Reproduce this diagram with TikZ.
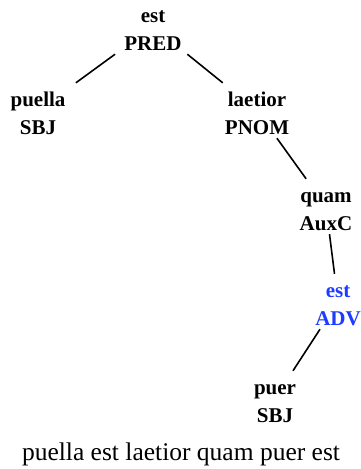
\documentclass[tikz,border=0pt]{standalone}
\usepackage{fontspec}
\setmainfont{Liberation Serif}
\definecolor{advblue}{RGB}{30,60,255}
\newcommand\lab[2]{\raisebox{0pt}[23pt][32pt]{\begin{tabular}[t]{@{}c@{}}#1\\#2\end{tabular}}}
\tikzset{
  tok/.style={inner sep=0pt, minimum width=90pt, anchor=base,
    font=\bfseries\fontsize{21}{28}\selectfont},
  edge/.style={line width=1.6pt},
}
\begin{document}
\begin{tikzpicture}[x=1pt,y=-1pt]
\useasboundingbox (0,0) rectangle (361,469);
\node[tok] (pred) at (153,22) {\lab{est}{PRED}};
\node[tok] (puella) at (38,106) {\lab{puella}{SBJ}};
\node[tok] (laetior) at (257,106) {\lab{laetior}{PNOM}};
\node[tok] (quam) at (326,202) {\lab{quam}{AuxC}};
\node[tok, text=advblue] (adv) at (338,297) {\lab{est}{ADV}};
\node[tok] (puer) at (275,394) {\lab{puer}{SBJ}};
\node[inner sep=0pt, anchor=base, font=\fontsize{25.5}{30}\selectfont] (sent) at (181,460) {puella est laetior quam puer est};
\draw[edge] (pred) -- (puella);
\draw[edge] (pred) -- (laetior);
\draw[edge] (laetior) -- (quam);
\draw[edge] (quam) -- (adv);
\draw[edge] (adv) -- (puer);
\end{tikzpicture}
\end{document}
